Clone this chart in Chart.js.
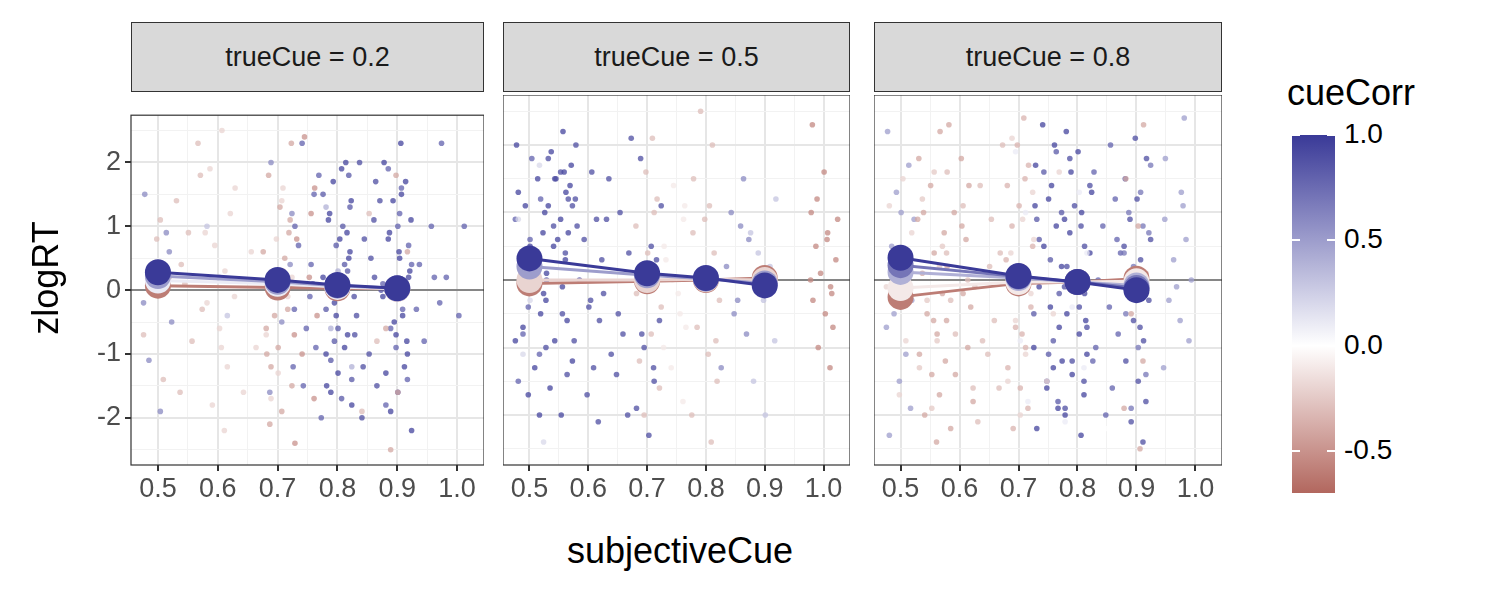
<!DOCTYPE html>
<html><head><meta charset="utf-8">
<script src="https://cdn.jsdelivr.net/npm/chart.js@4"></script>
<style>
body{margin:0;width:1500px;height:600px;background:#fff;position:relative;font-family:"Liberation Sans",Arial,sans-serif;overflow:hidden}
.box{position:absolute}
.strip{position:absolute;top:22px;height:70px;background:#d9d9d9;border:1px solid #333;box-sizing:border-box;font-size:27px;display:flex;align-items:center;justify-content:center;color:#1a1a1a}
.lab{position:absolute;font-size:28px;color:#000}
</style></head><body>
<div class="strip" style="left:131px;width:353px">trueCue = 0.2</div>
<div class="strip" style="left:503px;width:347px">trueCue = 0.5</div>
<div class="strip" style="left:874px;width:348px">trueCue = 0.8</div>
<div class="box" style="left:0;top:95px;width:484px;height:420px"><canvas id="c0"></canvas></div>
<div class="box" style="left:503px;top:95px;width:347px;height:420px"><canvas id="c1"></canvas></div>
<div class="box" style="left:874px;top:95px;width:348px;height:420px"><canvas id="c2"></canvas></div>
<div class="lab" style="left:-20px;top:258px;width:130px;font-size:36px;transform:rotate(-90deg);transform-origin:65px 20px;text-align:center">zlogRT</div>
<div class="lab" style="left:530px;top:530px;width:300px;text-align:center;font-size:36px">subjectiveCue</div>
<div class="lab" style="left:1287px;top:72px;font-size:36px">cueCorr</div>
<div id="bar" class="box" style="left:1292px;top:135px;width:43px;height:358px"></div>
<div id="legticks"></div>
<script>
// ---------------------------------------------------------------
// Datos
// ---------------------------------------------------------------
const X_MEDIAS = [0.5, 0.7, 0.8, 0.9];
const X_TICKS = [0.5, 0.6, 0.7, 0.8, 0.9, 1.0];
const Y_TICKS = [-2, -1, 0, 1, 2];
const LEYENDA_TICKS = [1.0, 0.5, 0.0, -0.5];
// desplazamiento horizontal (jitter) estimado de los puntos
const JIT = [-0.022,0.014,-0.007,0.023,-0.015,0.004,0.019,-0.024,0.009,-0.002,0.017,-0.019,0.001,-0.011,0.024,0.007,-0.013,0.021,-0.005,0.012,-0.018,0.003,0.016,-0.009,0.011,-0.021,0.006];

// [x, cueCorr, [zlogRT...]]
const puntos02 = [
  [0.5,0.6,[1.5,0.9,0.3,-0.5,-1.1,-1.9,0.6,-0.2]],
  [0.5,-0.3,[1.1,0.2,-0.7,-1.4,0.8]],
  [0.55,-0.3,[2.3,1.4,0.9,0.4,-0.3,-0.8,-1.6,1.8,0.1]],
  [0.6,-0.2,[2.5,1.9,1.2,0.7,0.3,-0.2,-0.6,-1.2,-1.8,-2.2,0.9,-0.9]],
  [0.6,0.3,[1.0,0.2,-0.4]],
  [0.65,-0.2,[1.6,0.6,-0.1,-0.9,-1.6]],
  [0.7,-0.4,[2.3,1.8,1.3,0.9,0.6,0.3,0,-0.3,-0.6,-0.9,-1.2,-1.5,-1.9,-2.1,1.1,-0.4,0.5,-1.0]],
  [0.7,-0.2,[1.6,0.8,-0.1,-0.7,-1.3,-1.7,0.2,1.4]],
  [0.7,0.6,[2.0,1.2,-0.5,-1.6,0.4]],
  [0.75,-0.5,[2.4,1.6,0.8,0.2,-0.4,-1.0,-1.7,-2.4,1.2,-0.7]],
  [0.75,0.8,[2.3,1.5,1.0,0.4,-0.3,-0.9,-1.5,-2.0,0.7,-0.1,1.8,-1.2,0.1,-0.6]],
  [0.8,0.95,[2.0,1.7,1.4,1.1,0.8,0.5,0.2,-0.1,-0.4,-0.7,-1.0,-1.3,-1.6,-1.8,1.9,1.2,0.6,-0.2,-0.9,-1.5,0.0,0.9]],
  [0.8,0.85,[1.8,1.5,1.0,0.7,0.3,-0.3,-0.6,-1.1,-1.4,-1.7,0.1,1.3,-0.8,0.4]],
  [0.8,0.4,[1.3,0.3,-0.6,-1.2]],
  [0.85,0.9,[2.0,1.4,0.8,0.2,-0.4,-1.0,-1.5,-2.0,1.1,-0.7,0.5,-0.1,1.7,-1.2,0.0]],
  [0.85,-0.3,[1.2,-0.8,-1.9]],
  [0.9,0.95,[2.3,2.0,1.7,1.4,1.1,0.8,0.5,0.2,-0.1,-0.4,-0.7,-1.0,-1.3,-1.6,-1.9,-2.2,1.5,0.9,0.3,-0.5,-1.2,0.0,0.6,-0.8]],
  [0.9,0.8,[1.9,1.2,0.7,0.1,-0.3,-0.9,-1.4,-1.8,1.0,-0.6,0.4,1.6]],
  [0.9,-0.4,[1.8,0.6,-0.6,-1.6,-2.5]],
  [0.95,0.8,[2.3,1.0,0.4,-0.2,-0.8,0.2,-0.3]],
  [1.0,0.8,[1.0,0.2,-0.4]]
];
const puntos05 = [
  [0.5,0.95,[2.0,1.5,1.1,0.7,0.3,-0.1,-0.5,-0.9,-1.3,-1.7,-2.0,1.3,0.5,-0.7,-0.2]],
  [0.5,0.8,[1.8,1.2,0.9,0.1,-0.4,-1.1,-1.5,0.6,-0.8]],
  [0.5,0.2,[1.7,0.9,-0.3,-1.1,-2.4]],
  [0.55,0.95,[2.2,1.9,1.7,1.5,1.3,1.1,0.9,0.7,0.5,0.3,0.1,-0.1,-0.3,-0.6,-0.9,-1.2,-1.6,-2.0,1.4,1.0,1.6,0.6]],
  [0.55,0.9,[1.8,1.6,1.2,0.8,0.4,0.0,-0.5,-1.0,-1.4,1.5,1.1]],
  [0.6,0.9,[2.0,1.6,1.2,0.9,0.6,0.3,0,-0.3,-0.6,-0.9,-1.3,-1.7,-2.1,0.8,-0.4]],
  [0.65,0.9,[2.1,1.5,1.0,0.4,-0.2,-0.8,-1.4,-2.0,0.9,-0.5,-1.1]],
  [0.7,-0.3,[2.1,1.6,1.2,0.8,0.4,0,-0.4,-0.8,-1.2,-1.6,-2.0,1.0,-0.2]],
  [0.7,0.9,[1.8,1.1,0.5,-0.1,-0.6,-1.0,-1.5,-1.9,-2.3,0.3,-0.8,-1.3]],
  [0.75,-0.1,[1.4,0.9,0.3,-0.2,-0.7,-1.3,-1.8,0.5,-0.5,-1.0,1.1,0.0]],
  [0.8,-0.3,[2.5,2.0,1.5,1.1,0.7,0.4,0.1,-0.3,-0.7,-1.1,-1.5,-2.0,-2.4,0.9,-0.9]],
  [0.85,0.6,[1.5,1.0,0.6,0.2,-0.3,-0.8,-1.3,0.8,-0.5]],
  [0.9,0.3,[1.2,0.7,0.2,-0.3,-0.9,-1.5,-2.0,0.4]],
  [1.0,-0.55,[2.3,1.6,1.2,0.9,0.7,0.5,0.3,0.1,-0.1,-0.3,-0.5,-0.7,-1.0,-1.3,1.0,0.6,0.0,-0.2]]
];
const puntos08 = [
  [0.5,0.5,[2.2,1.7,1.3,0.9,0.5,0.1,-0.3,-0.7,-1.1,-1.5,-1.9,-2.3,1.0,-0.5]],
  [0.5,-0.2,[1.5,0.7,-0.1,-0.9,-1.7,0.3,1.1,-0.4]],
  [0.55,-0.4,[2.2,1.8,1.4,1.0,0.7,0.4,0.1,-0.2,-0.5,-0.8,-1.1,-1.4,-1.7,-2.0,-2.4,0.9,-0.6]],
  [0.55,-0.25,[1.6,1.2,0.5,-0.3,-0.9,-1.3,-1.9,0.2]],
  [0.6,-0.4,[2.3,1.8,1.4,1.0,0.6,0.2,-0.2,-0.6,-1.0,-1.4,-1.8,-2.2,0.8,-0.4,-1.2]],
  [0.6,-0.3,[1.6,1.1,0.4,0.0,-0.8,-1.6,-0.3]],
  [0.65,-0.3,[2.0,1.4,0.9,0.4,-0.1,-0.6,-1.1,-1.6,-2.1,0.2,-0.9]],
  [0.7,-0.35,[2.4,2.0,1.7,1.4,1.1,0.8,0.5,0.2,-0.1,-0.4,-0.7,-1.0,-1.3,-1.6,-1.9,-2.2,1.5,0.3,-0.8]],
  [0.7,-0.2,[2.1,1.3,0.9,0.4,-0.2,-0.6,-1.1,-1.5,-2.0,0.0]],
  [0.7,0.1,[1.9,1.0,0.1,-0.9,-1.8]],
  [0.75,0.95,[2.3,2.0,1.7,1.4,1.1,0.8,0.5,0.2,-0.1,-0.4,-0.7,-1.0,-1.3,-1.6,-1.9,-2.2,1.2,0.0,-1.2]],
  [0.75,0.85,[1.9,1.6,1.0,0.6,0.3,-0.2,-0.5,-0.9,-1.5,-1.8,0.9,-1.1]],
  [0.75,-0.2,[1.6,0.6,-0.5,-1.5]],
  [0.8,0.95,[2.2,1.9,1.6,1.3,1.0,0.7,0.4,0.1,-0.2,-0.5,-0.8,-1.1,-1.4,-1.7,-2.0,-2.3,0.9,-0.6]],
  [0.8,0.9,[1.8,1.4,1.1,0.5,0.2,-0.4,-0.7,-1.2,-1.5,-1.9,0.8,-0.1]],
  [0.8,0.1,[1.3,0.4,-0.4,-1.3,-2.1]],
  [0.85,0.8,[2.0,1.6,1.2,0.8,0.4,0,-0.4,-0.8,-1.2,-1.6,-2.0,0.6,-1.0]],
  [0.85,0.0,[1.7,0.9,0.1,-0.7,-1.5,-2.2]],
  [0.9,0.9,[2.1,1.8,1.5,1.2,0.9,0.6,0.3,0,-0.3,-0.6,-0.9,-1.2,-1.5,-1.8,-2.1,-2.4,0.5,-0.7]],
  [0.9,0.7,[1.7,1.3,1.0,0.7,0.2,-0.2,-0.5,-1.0,-1.4,-1.9,0.8,0.4]],
  [0.9,-0.4,[2.3,1.5,0.8,0.1,-0.5,-1.2,-1.9,-2.5]],
  [0.97,0.5,[2.4,1.8,1.3,0.9,0.6,0.3,0,-0.3,-0.6,-0.9,-1.3,1.1,-0.1]]
];

// medias por grupo de cueCorr: [cueCorr, [y en 0.5, 0.7, 0.8, 0.9]]
const medias02 = [[-0.6,[0.07,0.04,0.03,0.02]],[0.1,[0.15,0.1,0.05,0.02]],[0.5,[0.22,0.13,0.07,0.03]],[1.0,[0.28,0.16,0.08,0.03]]];
const medias05 = [[-0.6,[-0.05,-0.02,0.0,0.03]],[-0.2,[0.0,0.0,0.01,0.0]],[0.5,[0.2,0.07,0.02,-0.05]],[1.0,[0.32,0.1,0.03,-0.08]]];
const medias08 = [[-0.6,[-0.25,-0.05,-0.03,0.02]],[-0.1,[-0.12,-0.03,-0.03,-0.02]],[0.4,[0.12,0.03,-0.03,-0.08]],[0.7,[0.22,0.05,-0.03,-0.12]],[1.0,[0.33,0.06,-0.03,-0.15]]];

// ---------------------------------------------------------------
// Escala de color
// ---------------------------------------------------------------
const BAJO = [178,103,94], ALTO = [58,58,152];
function colorCorr(v, a = 1) {
  let c;
  if (v >= 0) { const t = Math.min(v, 1); c = ALTO.map(k => Math.round(255 + (k - 255) * t)); }
  else { const t = Math.min(-v / 0.7, 1); c = BAJO.map(k => Math.round(255 + (k - 255) * t)); }
  return `rgba(${c[0]},${c[1]},${c[2]},${a})`;
}

const cerca = (v, s) => Math.abs(v / s - Math.round(v / s)) < 1e-6;

const marco = {
  id: 'marco',
  beforeDatasetsDraw(ch) {
    const a = ch.chartArea, y0 = ch.scales.y.getPixelForValue(0), g = ch.ctx;
    g.save(); g.strokeStyle = '#666'; g.lineWidth = 1.5;
    g.beginPath(); g.moveTo(a.left, y0); g.lineTo(a.right, y0); g.stroke(); g.restore();
  },
  afterDraw(ch) {
    const a = ch.chartArea, g = ch.ctx;
    g.save(); g.strokeStyle = '#333'; g.lineWidth = 1.2;
    g.strokeRect(a.left, a.top, a.right - a.left, a.bottom - a.top); g.restore();
  }
};

function crearPanel(id, puntos, medias, conEjeY) {
  const datasets = [];
  puntos.forEach((cl, ci) => {
    datasets.push({
      type: 'scatter',
      data: cl[2].map((y, i) => ({ x: cl[0] + JIT[(i + ci * 5) % JIT.length], y })),
      backgroundColor: colorCorr(cl[1], 0.75),
      borderWidth: 0, pointRadius: 2.8, order: 100 - ci
    });
  });
  medias.forEach((m, mi) => {
    datasets.push({
      type: 'line',
      data: X_MEDIAS.map((x, i) => ({ x, y: m[1][i] })),
      borderColor: colorCorr(m[0]), backgroundColor: colorCorr(m[0]),
      borderWidth: 3, pointRadius: 13, pointBorderWidth: 0, order: 20 - mi
    });
  });
  new Chart(document.getElementById(id), {
    type: 'scatter',
    data: { datasets },
    options: {
      responsive: true, maintainAspectRatio: false, animation: false,
      layout: { padding: 0, autoPadding: false },
      plugins: { legend: { display: false }, tooltip: { enabled: false } },
      scales: {
        x: {
          type: 'linear', min: 0.455, max: 1.045,
          afterBuildTicks: s => { s.ticks = [0.5,0.55,0.6,0.65,0.7,0.75,0.8,0.85,0.9,0.95,1.0].map(v => ({ value: v })); },
          afterFit: s => { s.height = 50; },
          border: { display: false },
          grid: {
            color: c => cerca(c.tick.value, 0.1) ? '#e6e6e6' : '#f2f2f2',
            lineWidth: c => cerca(c.tick.value, 0.1) ? 2 : 1,
            tickColor: c => cerca(c.tick.value, 0.1) ? '#333' : 'rgba(0,0,0,0)',
            tickLength: 6
          },
          ticks: {
            autoSkip: false, maxRotation: 0, color: '#4d4d4d', padding: 2,
            font: { family: 'Liberation Sans', size: 27 },
            callback: v => X_TICKS.some(t => Math.abs(t - v) < 1e-6) ? v.toFixed(1) : ''
          }
        },
        y: {
          type: 'linear', min: -2.74, max: 2.74,
          afterBuildTicks: s => { s.ticks = [-2.5,-2,-1.5,-1,-0.5,0,0.5,1,1.5,2,2.5].map(v => ({ value: v })); },
          afterFit: s => { s.width = conEjeY ? 131 : 0; },
          border: { display: false },
          grid: {
            color: c => Number.isInteger(c.tick.value) ? '#e6e6e6' : '#f2f2f2',
            lineWidth: c => Number.isInteger(c.tick.value) ? 2 : 1,
            tickColor: c => (conEjeY && Number.isInteger(c.tick.value)) ? '#333' : 'rgba(0,0,0,0)',
            tickLength: conEjeY ? 6 : 0
          },
          ticks: {
            display: conEjeY, autoSkip: false, color: '#4d4d4d', padding: 4,
            font: { family: 'Liberation Sans', size: 27 },
            callback: v => Y_TICKS.includes(v) ? String(v) : ''
          }
        }
      }
    },
    plugins: [marco]
  });
}

crearPanel('c0', puntos02, medias02, true);
crearPanel('c1', puntos05, medias05, false);
crearPanel('c2', puntos08, medias08, false);

// ---------------------------------------------------------------
// Leyenda de color
// ---------------------------------------------------------------
const LEG_MAX = 1.0, LEG_MIN = -0.7, LEG_TOP = 135, LEG_H = 358;
const pct0 = (LEG_MAX - 0) / (LEG_MAX - LEG_MIN) * 100;
document.getElementById('bar').style.background =
  `linear-gradient(to bottom, ${colorCorr(1)} 0%, ${colorCorr(0.5)} ${pct0 / 2}%, #fff ${pct0}%, ${colorCorr(-0.35)} ${(pct0 + 100) / 2}%, ${colorCorr(-0.7)} 100%)`;
document.getElementById('legticks').innerHTML = LEYENDA_TICKS.map(v => {
  const y = LEG_TOP + (LEG_MAX - v) / (LEG_MAX - LEG_MIN) * LEG_H;
  return `<div class="box" style="left:1292px;top:${y - 1}px;width:8px;height:2px;background:#fff"></div>
    <div class="box" style="left:1327px;top:${y - 1}px;width:8px;height:2px;background:#fff"></div>
    <div class="lab" style="left:1344px;top:${y - 17}px">${v.toFixed(1)}</div>`;
}).join('');
</script>
</body></html>
